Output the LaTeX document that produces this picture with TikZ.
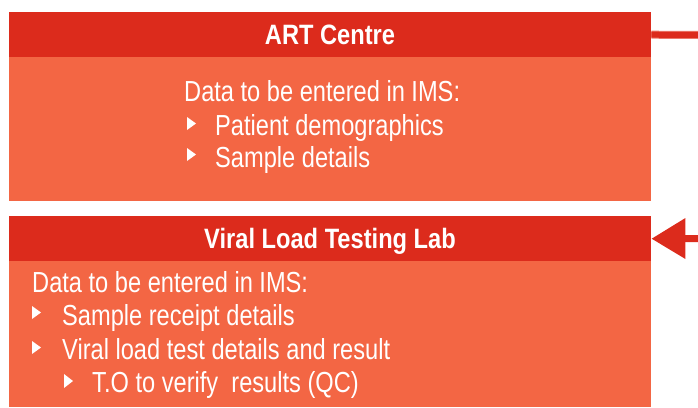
\documentclass[tikz,border=0pt]{standalone}
\usepackage{fontspec}
\setmainfont{Liberation Sans}
\newfontfamily\bodyfont{Liberation Sans}[FakeStretch=0.815]
\newfontfamily\headfont{Liberation Sans}[FakeStretch=0.845]
\usetikzlibrary{arrows.meta}
\definecolor{hdr}{RGB}{220,43,28}
\definecolor{bdy}{RGB}{243,102,68}
\definecolor{edgepale}{RGB}{236,120,105}
\tikzset{
  hdrbox/.style={fill=hdr, draw=none, inner sep=0pt, minimum width=642pt, minimum height=45pt, anchor=north west},
  bdybox/.style={fill=bdy, draw=none, inner sep=0pt, minimum width=642pt, anchor=north west},
  titletext/.style={text=white, inner sep=0pt, anchor=base, font=\headfont\bfseries\fontsize{28}{32}\selectfont},
  linetext/.style={text=white, inner sep=0pt, anchor=base west, font=\bodyfont\fontsize{29}{33}\selectfont},
  tri/.style={fill=white, draw=none},
  conn/.style={draw=hdr, line width=7pt}
}
\begin{document}
\begin{tikzpicture}[x=1pt,y=-1pt]
\useasboundingbox (0,0) rectangle (698,407);
% ART Centre
\node[hdrbox] (artH) at (9,12) {};
\node[bdybox, minimum height=144pt] (artB) at (9,57) {};
\node[titletext] (artT) at (330,44.3) {ART Centre};
\node[linetext] (artL1) at (184,101) {Data to be entered in IMS:};
\node[linetext] (artL2) at (215,135) {Patient demographics};
\node[linetext] (artL3) at (215,167) {Sample details};
\fill[tri] (187,117) -- (196,123.5) -- (187,130) -- cycle;
\fill[tri] (187,148) -- (196,154.5) -- (187,161) -- cycle;
% Viral Load Testing Lab
\node[hdrbox] (labH) at (9,216) {};
\node[bdybox, minimum height=146pt] (labB) at (9,261) {};
\node[titletext] (labT) at (330,248) {Viral Load Testing Lab};
\node[linetext] (labL1) at (32,292) {Data to be entered in IMS:};
\node[linetext] (labL2) at (62,325) {Sample receipt details};
\node[linetext] (labL3) at (62,359) {Viral load test details and result};
\node[linetext] (labL4) at (92,392) {T.O to verify\ \ results (QC)};
\fill[tri] (32,306) -- (41,312.5) -- (32,319) -- cycle;
\fill[tri] (32,341) -- (41,347.5) -- (32,354) -- cycle;
\fill[tri] (64,374) -- (73,381) -- (64,388) -- cycle;
% connectors
\coordinate (outEnd) at (698,35);
\coordinate (inEnd) at (698,238.5);
\draw[draw=edgepale, line width=8pt] (artH.east) -- (outEnd);
\draw[conn, line width=6pt] (artH.east) -- (outEnd);
\draw[conn, -{Triangle[length=34pt,width=39pt]}] (inEnd) -- (labH.east);
\end{tikzpicture}
\end{document}
